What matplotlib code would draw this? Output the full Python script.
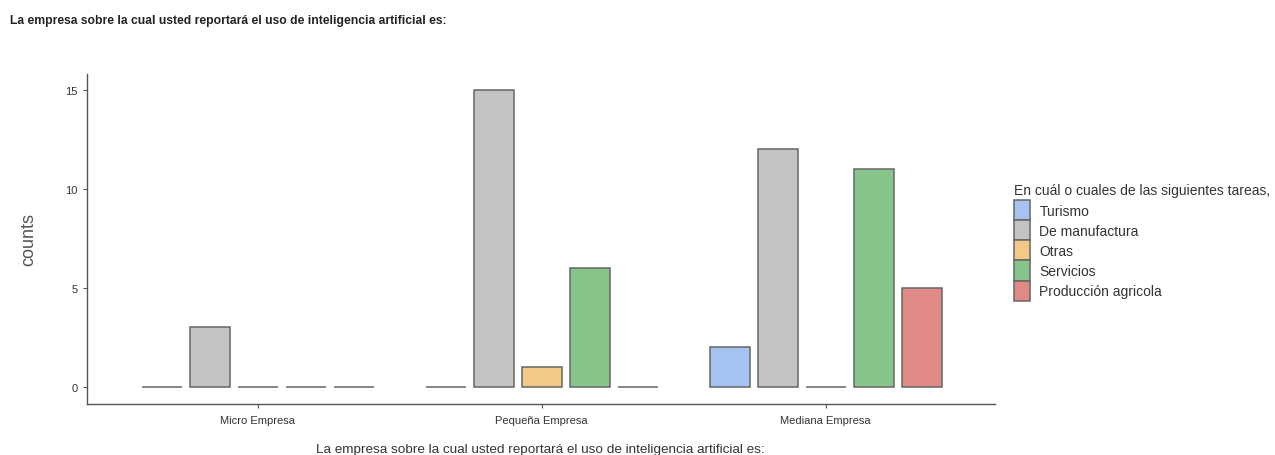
import numpy as np
import matplotlib.pyplot as plt

# ----------------------------
# Data
# ----------------------------
empresas = ["Micro Empresa", "Pequeña Empresa", "Mediana Empresa"]
tareas = ["Turismo", "De manufactura", "Otras", "Servicios", "Producción agricola"]
turismo = [0, 0, 2]
manufactura = [3, 15, 12]
otras = [0, 1, 0]
servicios = [0, 6, 11]
agricola = [0, 0, 5]
colores = ["#a4c3f0", "#c4c4c4", "#f2c986", "#87c58a", "#e08a87"]

series = [turismo, manufactura, otras, servicios, agricola]

plt.rcParams["font.family"] = ["Liberation Sans", "DejaVu Sans"]

fig = plt.figure(figsize=(12.75, 4.56), dpi=100)
ax = fig.add_axes([0.068, 0.112, 0.712, 0.724])

x = np.arange(len(empresas))
step = 0.169
width = 0.141
for i, (vals, nombre, col) in enumerate(zip(series, tareas, colores)):
    ax.bar(x + (i - 2) * step, vals, width=width, color=col,
           edgecolor="#666666", linewidth=1.1, label=nombre)

ax.set_xlim(-0.602, 2.595)
ax.set_ylim(-0.86, 15.8)
ax.set_yticks([0, 5, 10, 15])
ax.set_xticks(x)
ax.set_xticklabels(empresas, fontsize=8, color="#333333")
ax.tick_params(axis="y", labelsize=8, labelcolor="#333333", color="#555555", length=3)
ax.tick_params(axis="x", color="#555555", length=3, pad=5)

for s in ["top", "right"]:
    ax.spines[s].set_visible(False)
for s in ["left", "bottom"]:
    ax.spines[s].set_color("#555555")
    ax.spines[s].set_linewidth(1.0)

ax.set_ylabel("counts", fontsize=13, color="#555555", labelpad=20)
ax.set_xlabel("La empresa sobre la cual usted reportará el uso de inteligencia artificial es:",
              fontsize=9.7, color="#333333", labelpad=13)

leg = ax.legend(loc="upper left", bbox_to_anchor=(1.022, 0.668), frameon=False,
                title="En cuál o cuales de las siguientes tareas,",
                fontsize=10, title_fontsize=10, handlelength=1.1, handleheight=1.85,
                handletextpad=0.7, labelspacing=0.0, borderaxespad=0, borderpad=0)
leg._legend_box.align = "left"
leg._legend_box.sep = 2
for t in leg.get_texts():
    t.set_color("#333333")
leg.get_title().set_color("#333333")

fig.text(0.008, 0.955, "La empresa sobre la cual usted reportará el uso de inteligencia artificial es:",
         fontsize=8.7, fontweight="bold", color="#222222", ha="left", va="center")

fig.savefig("out.png", dpi=100)
